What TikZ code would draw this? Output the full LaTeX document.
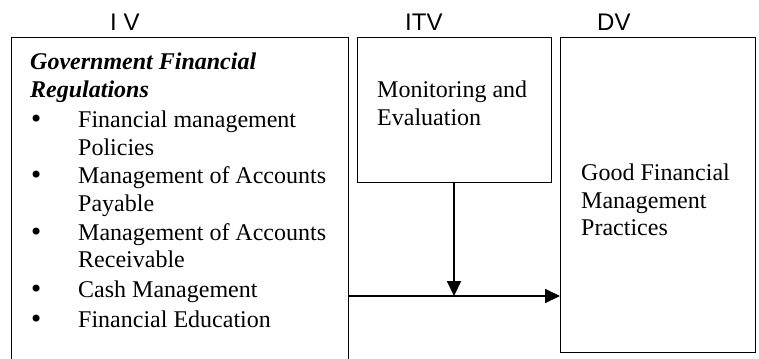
\documentclass[tikz,border=0pt]{standalone}
\usepackage{fontspec}
\setmainfont{Liberation Serif}
\newfontfamily\labfont{Liberation Sans}
\newfontfamily\bulfont{DejaVu Sans}
\usetikzlibrary{arrows.meta}
\begin{document}
\begin{tikzpicture}[x=1bp,y=-1bp,
  boxstyle/.style={draw=black,line width=0.9bp,rectangle,inner sep=0pt,anchor=north west},
  txt/.style={inner sep=0pt,anchor=base west,font=\fontsize{24bp}{28.5bp}\selectfont},
  bul/.style={inner sep=0pt,anchor=base west,font=\bulfont\fontsize{24bp}{24bp}\selectfont},
  lab/.style={inner sep=0pt,anchor=base west,font=\labfont\fontsize{24bp}{28.5bp}\selectfont},
  arr/.style={line width=2bp,-{Triangle[length=15bp,width=14bp]}}]
\useasboundingbox (0,0) rectangle (759,358);
\clip (0,0) rectangle (759,358);
% boxes
\node[boxstyle,minimum width=337bp,minimum height=340bp] (ivbox) at (11,37) {};
\node[boxstyle,minimum width=194bp,minimum height=145bp] (itvbox) at (357,37) {};
\node[boxstyle,minimum width=195bp,minimum height=315bp] (dvbox) at (560,37) {};
% headings
\node[lab] (ivlab) at (110,30) {I V};
\node[lab] (itvlab) at (405,30) {ITV};
\node[lab] (dvlab) at (597,30) {DV};
% left box text
\node[txt,font=\fontsize{24bp}{28.5bp}\selectfont\bfseries\itshape] (t1) at (30,69) {Government Financial};
\node[txt,font=\fontsize{24bp}{28.5bp}\selectfont\bfseries\itshape] (t2) at (30,97) {Regulations};
\node[bul] (b1) at (29,127) {•};
\node[txt] (l1a) at (78,127) {Financial management};
\node[txt] (l1b) at (78,155) {Policies};
\node[bul] (b2) at (29,183) {•};
\node[txt] (l2a) at (78,183) {Management of Accounts};
\node[txt] (l2b) at (78,211) {Payable};
\node[bul] (b3) at (29,240) {•};
\node[txt] (l3a) at (78,240) {Management of Accounts};
\node[txt] (l3b) at (78,267) {Receivable};
\node[bul] (b4) at (29,297) {•};
\node[txt] (l4) at (78,297) {Cash Management};
\node[bul] (b5) at (29,327) {•};
\node[txt] (l5) at (78,327) {Financial Education};
% ITV text
\node[txt] (m1) at (377,97) {Monitoring and};
\node[txt] (m2) at (377,125) {Evaluation};
% DV text
\node[txt] (g1) at (581,180) {Good Financial};
\node[txt] (g2) at (581,208) {Management};
\node[txt] (g3) at (581,235) {Practices};
% connectors
\coordinate (j) at (454,296);
\draw[arr] (ivbox.east |- j) -- (dvbox.west |- j);
\draw[arr] (itvbox.south -| j) -- (j);
\end{tikzpicture}
\end{document}
